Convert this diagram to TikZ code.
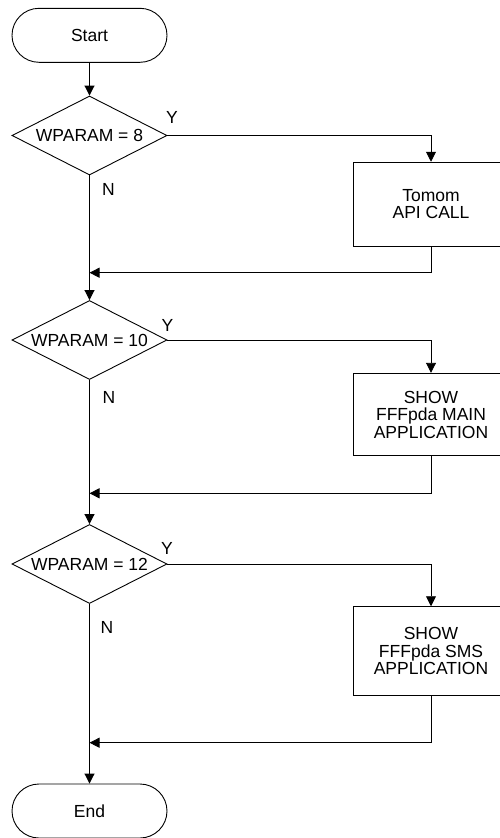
\documentclass[tikz,border=0pt]{standalone}
\usepackage{fontspec}
\setmainfont{Liberation Sans}
\usetikzlibrary{shapes.geometric,arrows.meta}
\begin{document}
\begin{tikzpicture}[x=1pt,y=-1pt,
  every node/.style={font=\fontsize{17.5}{17.5}\selectfont},
  line/.style={draw=black, line width=0.9pt},
  arr/.style={line, -{Triangle[length=10pt,width=10pt]}},
  term/.style={line, rectangle, rounded corners=27pt, minimum width=155pt,
    minimum height=54pt, inner sep=0pt},
  decision/.style={line, diamond, minimum width=155pt, minimum height=79pt,
    inner sep=0pt},
  process/.style={line, rectangle, minimum width=156pt, inner sep=0pt,
    align=center},
  tag/.style={inner sep=0pt}]
\useasboundingbox (0,0) rectangle (500,838);
\clip (0,0) rectangle (500,838);

% terminals
\node[term] (start) at (89.5,35.3) {Start};
\node[term] (end)   at (89.5,811) {End};

% decisions
\node[decision, label={[tag]center:WPARAM = 8}]  (d1) at (89.5,135.5) {};
\node[decision, label={[tag]center:WPARAM = 10}] (d2) at (89.5,340) {};
\node[decision, label={[tag]center:WPARAM = 12}] (d3) at (89.5,564) {};

% actions
\node[process, minimum height=84pt] (p1) at (431,204.2) {Tomom\\API CALL};
\node[process, minimum height=82.5pt] (p2) at (431,414.5) {SHOW\\FFFpda MAIN\\APPLICATION};
\node[process, minimum height=89pt] (p3) at (431,651.2) {SHOW\\FFFpda SMS\\APPLICATION};

% branch labels
\node[tag] (y1) at (172,117) {Y};
\node[tag] (n1) at (108.5,189) {N};
\node[tag] (y2) at (167.5,325) {Y};
\node[tag] (n2) at (109,397) {N};
\node[tag] (y3) at (167,548.5) {Y};
\node[tag] (n3) at (107,627) {N};

% junctions on the main line
\coordinate (j1) at (89.5,272.7);
\coordinate (j2) at (89.5,493.3);
\coordinate (j3) at (89.5,742.7);

% main flow
\draw[arr] (start) -- (d1);
\draw[arr] (d1) -- (d2);
\draw[arr] (d2) -- (d3);
\draw[arr] (d3) -- (end);

% yes branches
\draw[arr] (d1.east) -| (p1.north);
\draw[arr] (d2.east) -| (p2.north);
\draw[arr] (d3.east) -| (p3.north);

% returns to the main line
\draw[arr] (p1.south) |- (j1);
\draw[arr] (p2.south) |- (j2);
\draw[arr] (p3.south) |- (j3);
\end{tikzpicture}
\end{document}
